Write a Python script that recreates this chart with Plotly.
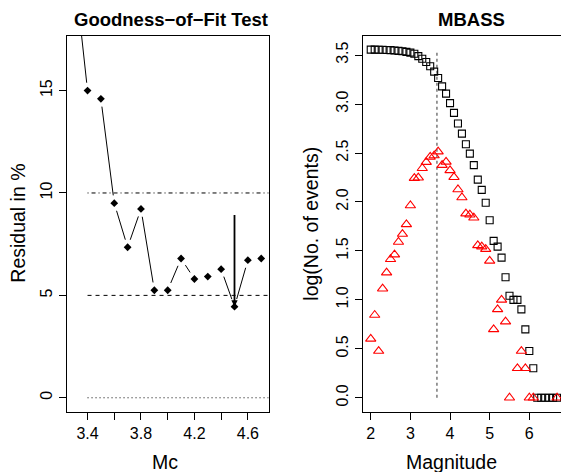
import math
import numpy as np
import plotly.graph_objects as go

W, H = 561, 472
FONT = "Liberation Sans, Arial, Helvetica, sans-serif"

# ---- Goodness-of-fit test: residual (%) against trial Mc ----
mc = [3.3, 3.4, 3.5, 3.6, 3.7, 3.8, 3.9, 4.0, 4.1, 4.2, 4.3, 4.4, 4.5, 4.6, 4.7]
residual = [21.0, 15.0, 14.6, 9.5, 7.35, 9.22, 5.25, 5.25, 6.8, 5.8, 5.92, 6.28, 4.45, 6.72, 6.8]
gft_mc = 4.5          # selected Mc
gft_arrow_from = 9.0  # arrow start (residual %)
ref_levels = [10, 5, 0]
ref_dashes = ["1px,3px,4px,3px", "4px,4px", "1px,3px"]   # R lty 4, 2, 3
ref_start = 3.4

gft_xticks = [3.4, 3.6, 3.8, 4.0, 4.2, 4.4, 4.6]
gft_xlabels = ["3.4", "", "3.8", "", "4.2", "", "4.6"]
gft_yticks = [0, 5, 10, 15]

# ---- MBASS: event counts per 0.1 magnitude bin ----
magnitude = [2.0, 2.1, 2.2, 2.3, 2.4, 2.5, 2.6, 2.7, 2.8, 2.9,
             3.0, 3.1, 3.2, 3.3, 3.4, 3.5, 3.6, 3.7, 3.8, 3.9,
             4.0, 4.1, 4.2, 4.3, 4.4, 4.5, 4.6, 4.7, 4.8, 4.9,
             5.0, 5.1, 5.2, 5.3, 5.4, 5.5, 5.6, 5.7, 5.8, 5.9,
             6.0, 6.1, 6.2, 6.3, 6.4, 6.5, 6.6, 6.7]
counts = [4, 7, 3, 13, 19, 26, 29, 39, 47, 59,
          92, 175, 177, 221, 255, 289, 298, 327, 238, 257,
          210, 179, 134, 111, 76, 74, 69, 36, 35, 33,
          25, 5, 8, 10, 6, 1, 0, 2, 3, 2,
          1, 1, 0, 0, 0, 0, 0, 1]
mbass_mc = 3.67

mb_xticks = [2, 3, 4, 5, 6, 7]
mb_yticks = [0.0, 0.5, 1.0, 1.5, 2.0, 2.5, 3.0, 3.5]
mb_ylabels = ["0.0", "0.5", "1.0", "1.5", "2.0", "2.5", "3.0", "3.5"]

# cumulative (N >= M) and per-bin counts on log scale
mag = np.array(magnitude)
cnt = np.array(counts, dtype=float)
cum = np.cumsum(cnt[::-1])[::-1]
log_cum = np.log10(cum)
nz = cnt > 0
log_cnt = np.log10(cnt[nz])
mag_nz = mag[nz]

# ---- panel geometry (pixels) ----
top_px, bot_px = 35.7, 411.7
L_x0, L_x1 = 66.7, 268.7
R_x0, R_x1 = 362.8, 561.0

def r_ext(lo, hi):
    d = (hi - lo) * 0.04
    return [lo - d, hi + d]

gft_xr = r_ext(min(mc), max(mc))
gft_yr = r_ext(0, 17)
mb_xr = [1.8, 1.8 + (R_x1 - R_x0) * (7.2 - 1.8) / (576.9 - R_x0)]
mb_yr = r_ext(0, float(log_cum.max()))


def gapped(xs, ys, xr, yr, wpx, hpx, gap=7.9):
    """Connect points like R's type='b': segments stop short of each point."""
    sx = wpx / (xr[1] - xr[0])
    sy = hpx / (yr[1] - yr[0])
    X, Y = [], []
    for i in range(len(xs) - 1):
        dx = (xs[i + 1] - xs[i]) * sx
        dy = (ys[i + 1] - ys[i]) * sy
        Lp = math.hypot(dx, dy)
        if Lp <= 2 * gap:
            continue
        f = gap / Lp
        ddx = xs[i + 1] - xs[i]
        ddy = ys[i + 1] - ys[i]
        X += [xs[i] + f * ddx, xs[i + 1] - f * ddx, None]
        Y += [ys[i] + f * ddy, ys[i + 1] - f * ddy, None]
    return X, Y


fig = go.Figure()

seg_x, seg_y = gapped(mc, residual, gft_xr, gft_yr, L_x1 - L_x0, bot_px - top_px)
fig.add_trace(go.Scatter(x=seg_x, y=seg_y, mode="lines",
                         line=dict(color="black", width=1), xaxis="x", yaxis="y",
                         hoverinfo="skip"))
fig.add_trace(go.Scatter(x=mc, y=residual, mode="markers",
                         marker=dict(symbol="diamond", size=6, color="black"),
                         xaxis="x", yaxis="y"))

for lvl, dsh in zip(ref_levels, ref_dashes):
    fig.add_trace(go.Scatter(x=[ref_start, gft_xr[1]], y=[lvl, lvl], mode="lines",
                             line=dict(color="black", width=1, dash=dsh),
                             xaxis="x", yaxis="y", hoverinfo="skip"))

# MBASS panel
fig.add_trace(go.Scatter(x=[mbass_mc, mbass_mc], y=[0, float(log_cum.max())], mode="lines",
                         line=dict(color="#555555", width=1.2, dash="3px,3px"),
                         xaxis="x2", yaxis="y2", hoverinfo="skip"))
fig.add_trace(go.Scatter(x=mag, y=log_cum, mode="markers",
                         marker=dict(symbol="square-open", size=7, color="black",
                                     line=dict(width=1.1)),
                         xaxis="x2", yaxis="y2"))
fig.add_trace(go.Scatter(x=mag_nz, y=log_cnt, mode="markers",
                         marker=dict(symbol="triangle-up-open", size=9, color="red",
                                     line=dict(width=1.1)),
                         xaxis="x2", yaxis="y2"))

axis_common = dict(showgrid=False, zeroline=False, showline=True, linecolor="black",
                   linewidth=1, ticks="outside", ticklen=7, tickcolor="black",
                   tickfont=dict(family=FONT, size=16, color="black"))

fig.update_layout(
    width=W, height=H,
    margin=dict(l=0, r=0, t=0, b=0),
    paper_bgcolor="white", plot_bgcolor="white",
    showlegend=False,
    xaxis=dict(domain=[L_x0 / W, L_x1 / W], range=gft_xr, anchor="y", mirror=True,
               tickmode="array", tickvals=gft_xticks, ticktext=gft_xlabels, **axis_common),
    yaxis=dict(domain=[1 - bot_px / H, 1 - top_px / H], range=gft_yr, anchor="x", mirror=True,
               tickmode="array", tickvals=gft_yticks, tickangle=-90, **axis_common),
    xaxis2=dict(domain=[R_x0 / W, 1.0], range=mb_xr, anchor="y2", mirror=True,
                tickmode="array", tickvals=mb_xticks, **axis_common),
    yaxis2=dict(domain=[1 - bot_px / H, 1 - top_px / H], range=mb_yr, anchor="x2", mirror=False,
                tickmode="array", tickvals=mb_yticks, ticktext=mb_ylabels, tickangle=-90,
                **axis_common),
)

# arrow marking the selected Mc
fig.add_annotation(x=gft_mc, y=residual[mc.index(gft_mc)], ax=gft_mc, ay=gft_arrow_from,
                   xref="x", yref="y", axref="x", ayref="y", text="", showarrow=True,
                   arrowhead=2, arrowsize=0.7, arrowwidth=1.8, arrowcolor="black", standoff=0)

def ptext(text, x, y, size, bold=False, angle=0):
    fig.add_annotation(text=f"<b>{text}</b>" if bold else text,
                       x=x / W, y=1 - y / H, xref="paper", yref="paper",
                       xanchor="center", yanchor="middle", showarrow=False, textangle=angle,
                       font=dict(family=FONT, size=size, color="black"))

ptext("Goodness\u2212of\u2212Fit Test", 170.5, 19.5, 18.5, bold=True)
ptext("MBASS", 471.3, 19.5, 18.5, bold=True)
ptext("Mc", 165.3, 462.2, 19.5)
ptext("Magnitude", 451.7, 462.2, 19.5)
ptext("Residual in %", 18.0, 223.7, 19.5, angle=-90)
ptext("log(No. of events)", 311.0, 223.7, 19.5, angle=-90)

fig.write_html("out.html")
